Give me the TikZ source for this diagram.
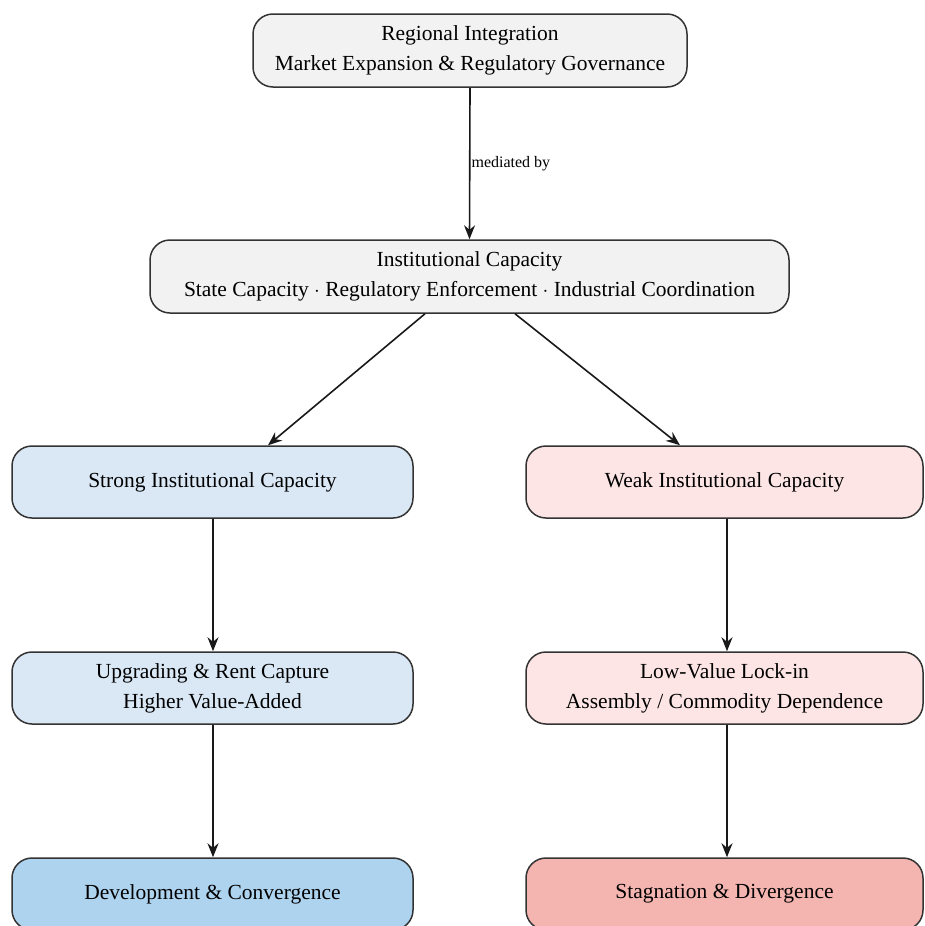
\documentclass[tikz,border=0pt]{standalone}
\usepackage{fontspec}
\setmainfont{Liberation Serif}
\usetikzlibrary{arrows.meta}
\definecolor{grayfill}{HTML}{F2F2F2}
\definecolor{bluelight}{HTML}{DAE8F6}
\definecolor{bluedark}{HTML}{AED3EF}
\definecolor{pinklight}{HTML}{FDE5E5}
\definecolor{pinkdark}{HTML}{F4B5B1}
\definecolor{edgecol}{HTML}{333333}
\tikzset{
  box/.style={draw=edgecol, line width=1.5pt, rounded corners=20pt, align=center,
    inner sep=0pt, font=\fontsize{21.5}{30}\selectfont, text=black},
  arr/.style={draw=black!90, line width=1.6pt, -{Stealth[length=14pt,width=11pt]}},
}
\begin{document}
\begin{tikzpicture}[x=1pt,y=1pt]
\clip (0,0) rectangle (924,-926);
\useasboundingbox (0,0) rectangle (924,-926);
\node[box, fill=grayfill, minimum width=434pt, minimum height=73pt] (top) at (470,-50.5)
  {Regional Integration\\Market Expansion \& Regulatory Governance};
\node[box, fill=grayfill, minimum width=639pt, minimum height=73pt] (inst) at (469.5,-276.5)
  {Institutional Capacity\\State Capacity $\cdot$ Regulatory Enforcement $\cdot$ Industrial Coordination};
\node[box, fill=bluelight, minimum width=401pt, minimum height=72pt] (strong) at (212.5,-482)
  {Strong Institutional Capacity};
\node[box, fill=pinklight, minimum width=397pt, minimum height=72pt] (weak) at (724.5,-482)
  {Weak Institutional Capacity};
\node[box, fill=bluelight, minimum width=401pt, minimum height=72pt] (upg) at (212.5,-688)
  {Upgrading \& Rent Capture\\Higher Value-Added};
\node[box, fill=pinklight, minimum width=397pt, minimum height=72pt] (low) at (724.5,-688)
  {Low-Value Lock-in\\Assembly / Commodity Dependence};
\node[box, fill=bluedark, minimum width=401pt, minimum height=72pt] (dev) at (212.5,-894)
  {Development \& Convergence};
\node[box, fill=pinkdark, minimum width=397pt, minimum height=72pt] (stag) at (724.5,-894)
  {Stagnation \& Divergence};

\draw[arr] (top.south) -- node[anchor=west, inner sep=1pt, font=\fontsize{16}{18}\selectfont, pos=0.5] {mediated by} (inst.north);
\draw[arr] (inst.south -| 425,0) -- (strong.north -| 268,0);
\draw[arr] (inst.south -| 515,0) -- (weak.north -| 680,0);
\draw[arr] (strong.south -| 213,0) -- (upg.north -| 213,0);
\draw[arr] (weak.south -| 727,0) -- (low.north -| 727,0);
\draw[arr] (upg.south -| 213,0) -- (dev.north -| 213,0);
\draw[arr] (low.south -| 727,0) -- (stag.north -| 727,0);
\end{tikzpicture}
\end{document}
